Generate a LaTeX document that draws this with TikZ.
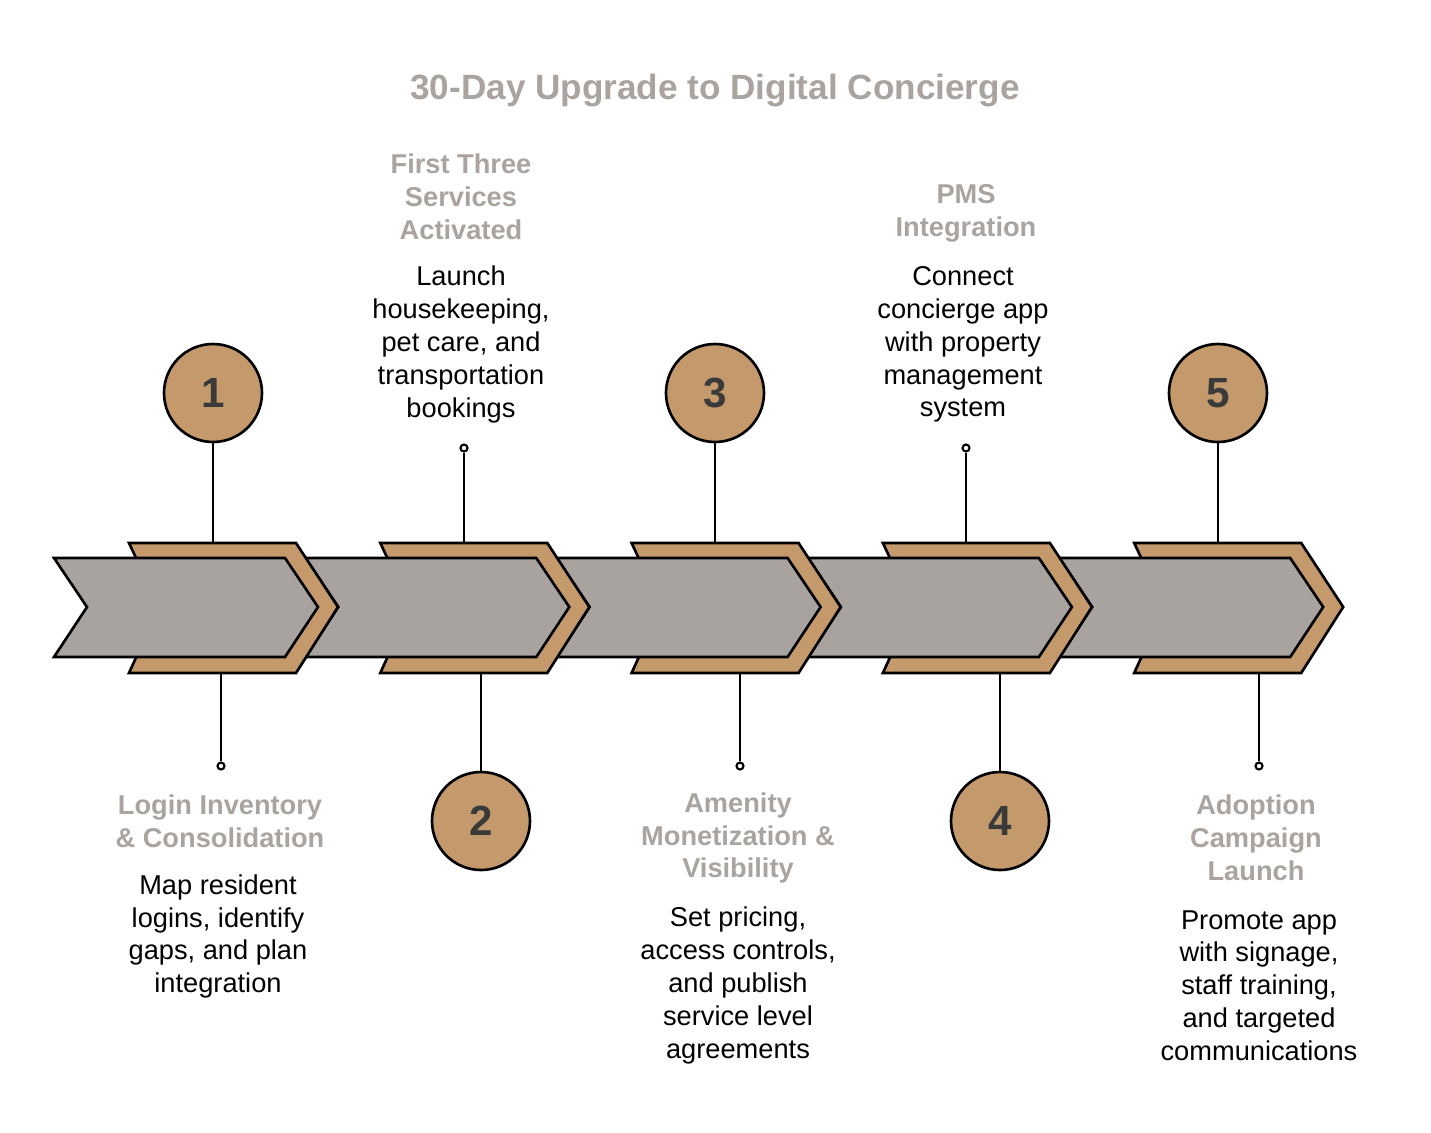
\documentclass[tikz,border=0pt]{standalone}
\usepackage{fontspec}
\setmainfont{Liberation Sans}
\definecolor{tan}{HTML}{C49A6C}
\definecolor{grayf}{HTML}{A8A39E}
\definecolor{ttl}{HTML}{A9A49F}
\definecolor{dark}{HTML}{3A3A3A}
\begin{document}
\begin{tikzpicture}[x=0.02cm,y=-0.02cm,
  ol/.style={draw=black,line width=1.5pt,line join=miter},
  num/.style={circle,draw=black,line width=1.5pt,fill=tan,minimum size=98*0.02cm,inner sep=0pt,font=\fontsize{24}{28}\selectfont\bfseries,text=dark},
  dot/.style={circle,draw=black,line width=1.2pt,fill=white,minimum size=7*0.02cm,inner sep=0pt},
  ttlbox/.style={align=center,text=ttl,font=\fontsize{15.5}{18.7}\selectfont\bfseries},
  descbox/.style={align=center,text=black,font=\fontsize{15.5}{18.7}\selectfont},
  stem/.style={draw=black,line width=1.5pt}]
\useasboundingbox (0,0) rectangle (1431,1133);
\node[font=\fontsize{20}{24}\selectfont\bfseries,text=ttl] (head) at (715,90) {30-Day Upgrade to Digital Concierge};
% chevrons drawn right to left
\foreach \i in {4,3,2,1,0}{
  \pgfmathsetmacro{\o}{251.3*\i}
  \begin{scope}[xshift=\o*0.02cm]
    \fill[tan,ol] (129,543) -- (296,543) -- (338,607) -- (296,673) -- (129,673) -- (159,607) -- cycle;
    \fill[grayf,ol] (54,558) -- (285,558) -- (318,607) -- (285,657) -- (54,657) -- (87,607) -- cycle;
  \end{scope}
}
% tops of tan chevrons as coordinates
\coordinate (t1) at (213,543); \coordinate (t2) at (464,543); \coordinate (t3) at (715,543);
\coordinate (t4) at (966,543); \coordinate (t5) at (1218,543);
\coordinate (b1) at (221,673); \coordinate (b2) at (481,673); \coordinate (b3) at (740,673);
\coordinate (b4) at (1000,673); \coordinate (b5) at (1259,673);
\node[num] (n1) at (213,393) {1};
\node[num] (n3) at (715,393) {3};
\node[num] (n5) at (1218,393) {5};
\node[num] (n2) at (481,821) {2};
\node[num] (n4) at (1000,821) {4};
\node[dot] (d2) at (464,448) {};
\node[dot] (d4) at (966,448) {};
\node[dot] (d1) at (221,766) {};
\node[dot] (d3) at (740,766) {};
\node[dot] (d5) at (1259,766) {};
\draw[stem] (n1) -- (t1); \draw[stem] (n3) -- (t3); \draw[stem] (n5) -- (t5);
\draw[stem] (d2) -- (t2); \draw[stem] (d4) -- (t4);
\draw[stem] (b1) -- (d1); \draw[stem] (b3) -- (d3); \draw[stem] (b5) -- (d5);
\draw[stem] (b2) -- (n2); \draw[stem] (b4) -- (n4);
% texts
\node[ttlbox] (l1) at (220,821.5) {Login Inventory\\\& Consolidation};
\node[descbox] (x1) at (218,936.5) {Map resident\\logins, identify\\gaps, and plan\\integration};
\node[ttlbox] (l2) at (461,197) {First Three\\Services\\Activated};
\node[descbox] (x2) at (461,344.5) {Launch\\housekeeping,\\pet care, and\\transportation\\bookings};
\node[ttlbox] (l3) at (738,838) {Amenity\\Monetization \&\\Visibility};
\node[descbox] (x3) at (738,985.5) {Set pricing,\\access controls,\\and publish\\service level\\agreements};
\node[ttlbox] (l4) at (966,213.5) {PMS\\Integration};
\node[descbox] (x4) at (963,344.5) {Connect\\concierge app\\with property\\management\\system};
\node[ttlbox] (l5) at (1256,838) {Adoption\\Campaign\\Launch};
\node[descbox] (x5) at (1259,985.5) {Promote app\\with signage,\\staff training,\\and targeted\\communications};
\end{tikzpicture}
\end{document}
